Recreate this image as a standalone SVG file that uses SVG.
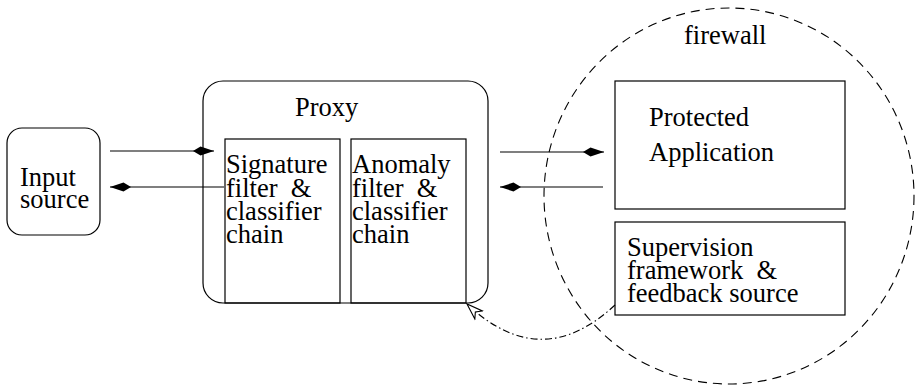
<svg xmlns="http://www.w3.org/2000/svg" width="916" height="388" viewBox="0 0 916 388" font-family="'Liberation Serif', 'Times New Roman', Times, serif">
  <style>
    .box { fill: none; stroke: #000; stroke-width: 1.2; }
    .lbl { font-family: 'Liberation Serif', 'Times New Roman', Times, serif; font-size: 26.5px; fill: #000; white-space: pre; }
    .wire { fill: none; stroke: #000; stroke-width: 1.2; }
    .fw { fill: none; stroke: #000; stroke-width: 1.1; stroke-dasharray: 9 6; }
    .fb { fill: none; stroke: #000; stroke-width: 1.1; stroke-dasharray: 7 3 1.5 3; }
  </style>
  <defs>
    <marker id="kite" markerUnits="userSpaceOnUse" markerWidth="23" markerHeight="12" refX="21" refY="5.5" orient="auto">
      <path d="M21,5.5 L7.5,1 L0,5.5 L7.5,10 z" fill="#000"/>
    </marker>
    <marker id="open" markerUnits="userSpaceOnUse" markerWidth="20" markerHeight="14" refX="17" refY="7" orient="auto">
      <path d="M17,7 L1,1.5 L5.5,7 L1,12.5 z" fill="#fff" stroke="#000" stroke-width="1.1"/>
    </marker>
  </defs>

  <!-- firewall boundary -->
  <g id="firewall">
    <ellipse class="fw" cx="729" cy="196" rx="185" ry="188"/>
    <text class="lbl" x="684" y="44">firewall</text>
  </g>

  <g id="input-source">
    <rect class="box" x="7" y="128" width="93" height="107" rx="15" ry="15"/>
    <text class="lbl" x="20" y="186">Input</text>
    <text class="lbl" x="20" y="208">source</text>
  </g>

  <g id="proxy">
    <rect class="box" x="203" y="81" width="285" height="222" rx="20" ry="20"/>
    <text class="lbl" x="295" y="116">Proxy</text>
  </g>

  <g id="signature-chain">
    <rect class="box" x="225" y="139" width="115" height="164"/>
    <text class="lbl" x="226" y="173">Signature</text>
    <text class="lbl" x="226" y="197">filter  &amp;</text>
    <text class="lbl" x="226" y="220">classifier</text>
    <text class="lbl" x="226" y="243">chain</text>
  </g>

  <g id="anomaly-chain">
    <rect class="box" x="351" y="139" width="115" height="164"/>
    <text class="lbl" x="352" y="173">Anomaly</text>
    <text class="lbl" x="352" y="197">filter  &amp;</text>
    <text class="lbl" x="352" y="220">classifier</text>
    <text class="lbl" x="352" y="243">chain</text>
  </g>

  <g id="protected-application">
    <rect class="box" x="615" y="81" width="230" height="128"/>
    <text class="lbl" x="649" y="126">Protected</text>
    <text class="lbl" x="649" y="161">Application</text>
  </g>

  <g id="supervision">
    <rect class="box" x="615" y="222" width="230" height="93"/>
    <text class="lbl" x="627" y="256">Supervision</text>
    <text class="lbl" x="627" y="279">framework  &amp;</text>
    <text class="lbl" x="627" y="302">feedback source</text>
  </g>

  <g id="connectors">
    <line class="wire" x1="110" y1="151" x2="214" y2="151" marker-end="url(#kite)"/>
    <line class="wire" x1="224" y1="187" x2="110" y2="187" marker-end="url(#kite)"/>
    <line class="wire" x1="500" y1="152" x2="604" y2="152" marker-end="url(#kite)"/>
    <line class="wire" x1="603" y1="187" x2="500" y2="187" marker-end="url(#kite)"/>
    <path class="fb" d="M615,305 Q541,374 467,304" marker-end="url(#open)"/>
  </g>
</svg>
